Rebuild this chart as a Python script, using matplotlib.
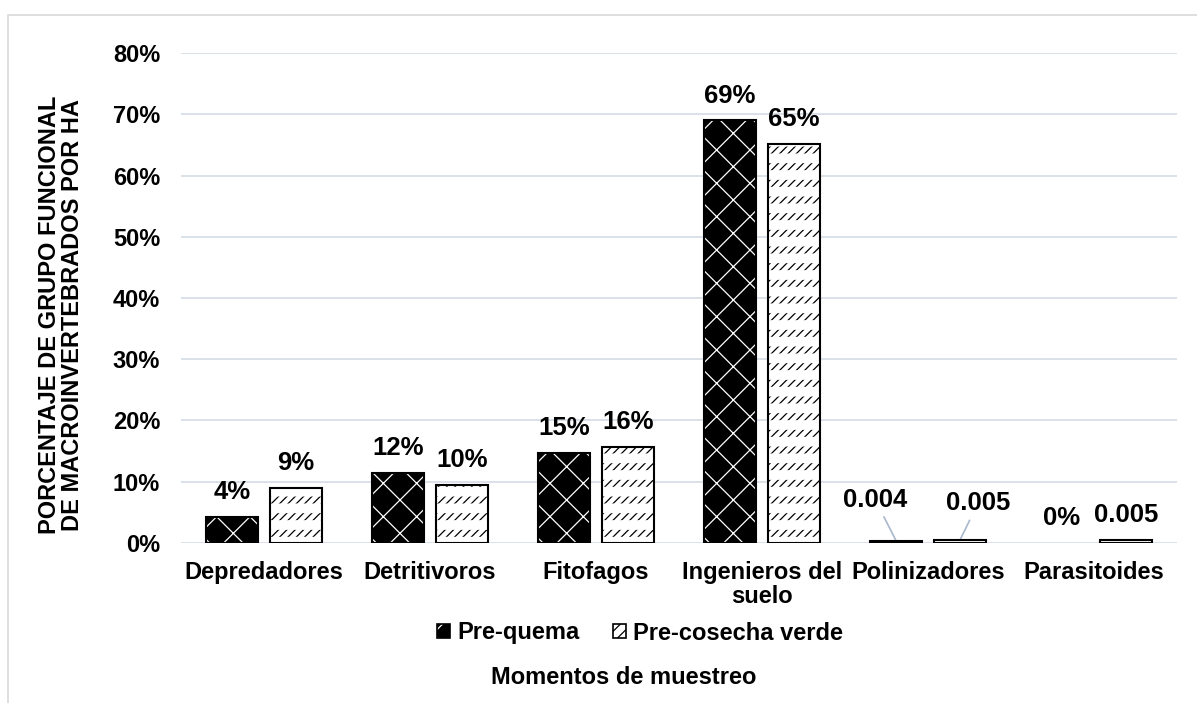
import matplotlib
matplotlib.use('Agg')
import matplotlib.pyplot as plt
import matplotlib.ticker as mtick
from matplotlib.patches import Patch, Rectangle
import numpy as np

# Data
categorias = ['Depredadores', 'Detritivoros', 'Fitofagos', 'Ingenieros del\nsuelo',
              'Polinizadores', 'Parasitoides']
pre_quema = [0.043, 0.115, 0.147, 0.690, 0.004, 0.0]
pre_cosecha = [0.090, 0.095, 0.157, 0.652, 0.005, 0.005]
etiq_quema = ['4%', '12%', '15%', '69%', '0.004', '0%']
etiq_cosecha = ['9%', '10%', '16%', '65%', '0.005', '0.005']
yticks = [0, 0.1, 0.2, 0.3, 0.4, 0.5, 0.6, 0.7, 0.8]

plt.rcParams['font.family'] = ['Liberation Sans', 'DejaVu Sans']
plt.rcParams['font.weight'] = 'bold'
plt.rcParams['hatch.linewidth'] = 0.9

fig = plt.figure(figsize=(11.97, 7.03), dpi=100)
ax = fig.add_axes([0.1512, 0.2276, 0.8321, 0.6970])

x = np.arange(len(categorias))
off = 0.193
w = 0.313

# no outline for zero-height bars
lw_q = [1.5 if v > 0 else 0 for v in pre_quema]
lw_c = [1.5 if v > 0 else 0 for v in pre_cosecha]

# dark bars: black fill, white hatch, black outline on top
ax.bar(x - off, pre_quema, w, color='black', edgecolor='white', hatch='x', linewidth=0, zorder=3)
ax.bar(x - off, pre_quema, w, fill=False, edgecolor='black', linewidth=lw_q, zorder=5)
# light bars: white fill, fine black diagonals cut into dashes by white bands
ax.bar(x + off, pre_cosecha, w, color='white', edgecolor='black', hatch='////', linewidth=0, zorder=3)
with plt.rc_context({'hatch.linewidth': 7}):
    ax.bar(x + off, pre_cosecha, w, fill=False, edgecolor='white', hatch='-', linewidth=0, zorder=4)
ax.bar(x + off, pre_cosecha, w, fill=False, edgecolor='black', linewidth=lw_c, zorder=5)

ax.set_xlim(-0.5, len(categorias) - 0.5)
ax.set_ylim(0, 0.8)
ax.set_yticks(yticks)
ax.yaxis.set_major_formatter(mtick.PercentFormatter(1.0, decimals=0))
ax.set_xticks(x)
ax.set_xticklabels(categorias)
for lbl in ax.get_xticklabels():
    lbl.set_linespacing(1.05)
ax.tick_params(axis='both', length=0, labelsize=17)
ax.tick_params(axis='y', pad=15)
ax.tick_params(axis='x', pad=13)

ax.grid(axis='y', color='#dbe1e8', linewidth=1.4, zorder=0)
ax.set_axisbelow(True)
for s in ax.spines.values():
    s.set_visible(False)

# data labels
for i in range(len(categorias)):
    if i == 4:
        continue
    ax.annotate(etiq_quema[i], (x[i] - off, pre_quema[i]), xytext=(0, 9),
                textcoords='offset points', ha='center', va='bottom', fontsize=18.5, fontweight='bold')
    ax.annotate(etiq_cosecha[i], (x[i] + off, pre_cosecha[i]), xytext=(0, 9),
                textcoords='offset points', ha='center', va='bottom', fontsize=18.5, fontweight='bold')

# Polinizadores labels with leader lines
ax.annotate(etiq_quema[4], (x[4] - off, pre_quema[4]), xytext=(-15, 29.5),
            textcoords='offset points', ha='center', va='center', fontsize=18.5, fontweight='bold',
            arrowprops=dict(arrowstyle='-', color='#a9b8cc', lw=1.2, shrinkA=2, shrinkB=0))
ax.annotate(etiq_cosecha[4], (x[4] + off, pre_cosecha[4]), xytext=(13, 26.6),
            textcoords='offset points', ha='center', va='center', fontsize=18.5, fontweight='bold',
            arrowprops=dict(arrowstyle='-', color='#a9b8cc', lw=1.2, shrinkA=2, shrinkB=0))

# y label
fig.text(61 / 1197, 1 - 315 / 703, 'PORCENTAJE DE GRUPO FUNCIONAL\nDE MACROINVERTEBRADOS POR HA',
         rotation=90, ha='center', va='center', fontsize=17, fontweight='bold', linespacing=1.05)

# legend
h1 = (Patch(facecolor='black', edgecolor='white', hatch='x', linewidth=0),
      Patch(fill=False, edgecolor='black', linewidth=1.2))
h2 = (Patch(facecolor='white', edgecolor='black', hatch='///', linewidth=0),
      Patch(fill=False, edgecolor='black', linewidth=1.2))
fig.legend([h1, h2], ['Pre-quema', 'Pre-cosecha verde'], loc='center',
           bbox_to_anchor=(640 / 1197, 1 - 633 / 703), ncol=2, frameon=False,
           prop={'size': 17, 'weight': 'bold'}, handlelength=0.55, handleheight=0.55,
           handletextpad=0.3, columnspacing=1.4)

# x label
fig.text(624 / 1197, 1 - 677 / 703, 'Momentos de muestreo', ha='center', va='center',
         fontsize=17, fontweight='bold')

# chart area border
fig.patches.append(Rectangle((8 / 1197, -0.05), 1.1, 1 - 15 / 703 + 0.05, transform=fig.transFigure,
                             fill=False, edgecolor='#d9d9d9', linewidth=1.2, zorder=0))

fig.savefig('out.png', dpi=100)
